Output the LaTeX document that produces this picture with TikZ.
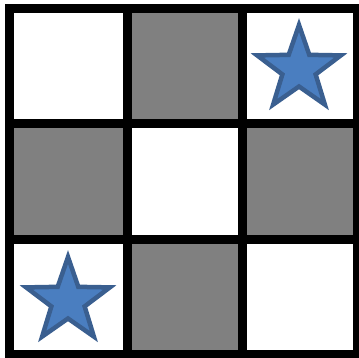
\documentclass[tikz,border=0pt]{standalone}
\definecolor{cellgray}{HTML}{808080}
\definecolor{starfill}{HTML}{4A7EC0}
\definecolor{starline}{HTML}{3A5F90}
\tikzset{
  gridline/.style={line width=9pt, black, line cap=rect},
  graycell/.style={fill=cellgray},
  starshape/.style={fill=starfill, draw=starline, line width=4.5pt, line join=miter}
}
\begin{document}
\begin{tikzpicture}[x=1pt,y=-1pt]
\useasboundingbox (0,0) rectangle (359,358);
\begin{scope}
\clip (0,0) rectangle (359,358);
% gray cells
\fill[graycell] (127,8.5) rectangle (242,124);
\fill[graycell] (9.5,124) rectangle (127,240);
\fill[graycell] (242,124) rectangle (357.5,240);
\fill[graycell] (127,240) rectangle (242,354.5);
% stars
\foreach \cx/\cy in {299/69, 68/301}{
  \draw[starshape] plot[samples at={0,...,9}, variable=\k]
    ({\cx + ifthenelse(mod(\k,2)==0,44,17.5)*cos(-90+36*\k)},
     {\cy + ifthenelse(mod(\k,2)==0,44,17.5)*sin(-90+36*\k)}) -- cycle;
}
% grid lines
\foreach \x in {9.5,127,242,357.5}{
  \draw[gridline] (\x,8.5) -- (\x,354.5);
}
\foreach \y in {8.5,124,240,354.5}{
  \draw[gridline] (9.5,\y) -- (357.5,\y);
}
\end{scope}
\end{tikzpicture}
\end{document}
